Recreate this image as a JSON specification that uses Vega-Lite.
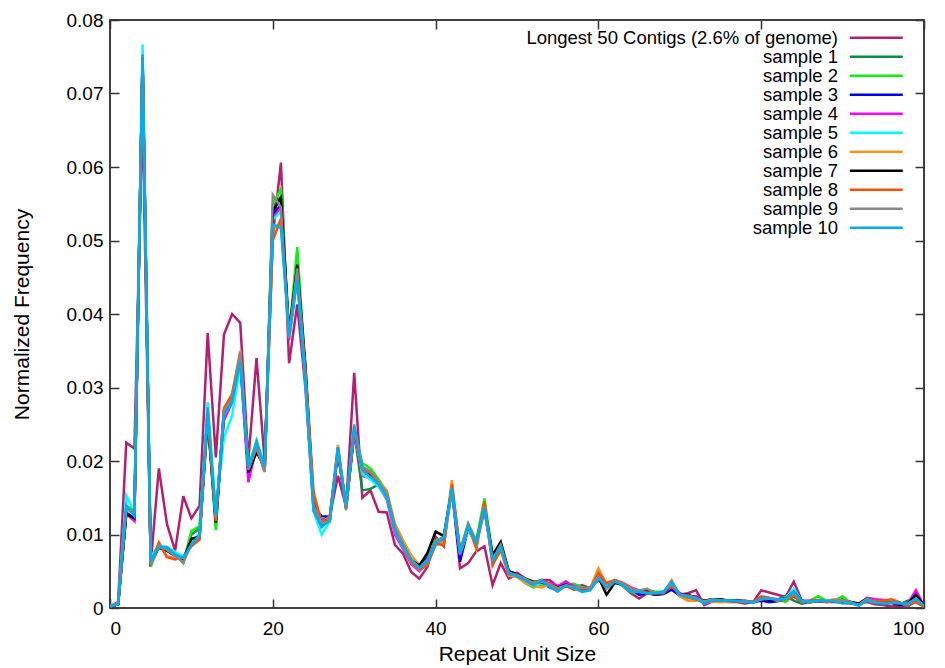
{
"$schema": "https://vega.github.io/schema/vega-lite/v6.json",
"autosize": "none",
"width": 814,
"height": 588,
"padding": {"left": 110, "top": 20, "right": 21, "bottom": 60},
"background": "white",
"config": {"font": "Liberation Sans", "view": {"stroke": "black", "strokeWidth": 1.5}},
"data": {"values": [
{"x":0,"L":0.0002,"s1":0.0002,"s2":0.0002,"s3":0.0002,"s4":0.0002,"s5":0.0002,"s6":0.0002,"s7":0.0002,"s8":0.0002,"s9":0.0003,"s10":0.0002},
{"x":1,"L":0.0008,"s1":0.0006,"s2":0.0006,"s3":0.0005,"s4":0.0005,"s5":0.0007,"s6":0.0006,"s7":0.0005,"s8":0.0006,"s9":0.0007,"s10":0.0005},
{"x":2,"L":0.0225,"s1":0.0135,"s2":0.0138,"s3":0.0130,"s4":0.0128,"s5":0.0153,"s6":0.0134,"s7":0.0128,"s8":0.0137,"s9":0.0136,"s10":0.0140},
{"x":3,"L":0.0217,"s1":0.0132,"s2":0.0135,"s3":0.0122,"s4":0.0118,"s5":0.0130,"s6":0.0128,"s7":0.0122,"s8":0.0130,"s9":0.0133,"s10":0.0125},
{"x":4,"L":0.0680,"s1":0.0748,"s2":0.0745,"s3":0.0750,"s4":0.0752,"s5":0.0767,"s6":0.0742,"s7":0.0749,"s8":0.0747,"s9":0.0746,"s10":0.0753},
{"x":5,"L":0.0060,"s1":0.0058,"s2":0.0056,"s3":0.0063,"s4":0.0064,"s5":0.0070,"s6":0.0060,"s7":0.0062,"s8":0.0059,"s9":0.0058,"s10":0.0066},
{"x":6,"L":0.0190,"s1":0.0086,"s2":0.0084,"s3":0.0083,"s4":0.0085,"s5":0.0085,"s6":0.0088,"s7":0.0082,"s8":0.0089,"s9":0.0085,"s10":0.0082},
{"x":7,"L":0.0114,"s1":0.0080,"s2":0.0080,"s3":0.0078,"s4":0.0079,"s5":0.0083,"s6":0.0070,"s7":0.0078,"s8":0.0069,"s9":0.0079,"s10":0.0083},
{"x":8,"L":0.0078,"s1":0.0072,"s2":0.0073,"s3":0.0071,"s4":0.0070,"s5":0.0076,"s6":0.0068,"s7":0.0072,"s8":0.0066,"s9":0.0071,"s10":0.0073},
{"x":9,"L":0.0152,"s1":0.0062,"s2":0.0061,"s3":0.0064,"s4":0.0063,"s5":0.0070,"s6":0.0068,"s7":0.0066,"s8":0.0069,"s9":0.0062,"s10":0.0068},
{"x":10,"L":0.0122,"s1":0.0100,"s2":0.0105,"s3":0.0090,"s4":0.0088,"s5":0.0090,"s6":0.0085,"s7":0.0094,"s8":0.0084,"s9":0.0087,"s10":0.0086},
{"x":11,"L":0.0139,"s1":0.0108,"s2":0.0111,"s3":0.0098,"s4":0.0095,"s5":0.0102,"s6":0.0100,"s7":0.0097,"s8":0.0093,"s9":0.0099,"s10":0.0099},
{"x":12,"L":0.0374,"s1":0.0262,"s2":0.0265,"s3":0.0268,"s4":0.0270,"s5":0.0280,"s6":0.0260,"s7":0.0255,"s8":0.0262,"s9":0.0266,"s10":0.0273},
{"x":13,"L":0.0205,"s1":0.0110,"s2":0.0106,"s3":0.0118,"s4":0.0120,"s5":0.0130,"s6":0.0120,"s7":0.0116,"s8":0.0118,"s9":0.0122,"s10":0.0127},
{"x":14,"L":0.0372,"s1":0.0268,"s2":0.0270,"s3":0.0262,"s4":0.0255,"s5":0.0232,"s6":0.0270,"s7":0.0265,"s8":0.0272,"s9":0.0268,"s10":0.0262},
{"x":15,"L":0.0400,"s1":0.0285,"s2":0.0288,"s3":0.0282,"s4":0.0280,"s5":0.0262,"s6":0.0292,"s7":0.0284,"s8":0.0290,"s9":0.0284,"s10":0.0280},
{"x":16,"L":0.0388,"s1":0.0340,"s2":0.0342,"s3":0.0336,"s4":0.0335,"s5":0.0330,"s6":0.0350,"s7":0.0342,"s8":0.0345,"s9":0.0348,"s10":0.0335},
{"x":17,"L":0.0201,"s1":0.0188,"s2":0.0190,"s3":0.0185,"s4":0.0171,"s5":0.0190,"s6":0.0186,"s7":0.0184,"s8":0.0188,"s9":0.0188,"s10":0.0190},
{"x":18,"L":0.0340,"s1":0.0225,"s2":0.0228,"s3":0.0222,"s4":0.0220,"s5":0.0225,"s6":0.0222,"s7":0.0212,"s8":0.0218,"s9":0.0220,"s10":0.0226},
{"x":19,"L":0.0200,"s1":0.0190,"s2":0.0192,"s3":0.0188,"s4":0.0186,"s5":0.0190,"s6":0.0187,"s7":0.0192,"s8":0.0186,"s9":0.0185,"s10":0.0193},
{"x":20,"L":0.0506,"s1":0.0545,"s2":0.0550,"s3":0.0535,"s4":0.0530,"s5":0.0528,"s6":0.0515,"s7":0.0540,"s8":0.0500,"s9":0.0562,"s10":0.0522},
{"x":21,"L":0.0606,"s1":0.0560,"s2":0.0570,"s3":0.0548,"s4":0.0545,"s5":0.0540,"s6":0.0525,"s7":0.0558,"s8":0.0530,"s9":0.0545,"s10":0.0517},
{"x":22,"L":0.0333,"s1":0.0372,"s2":0.0370,"s3":0.0368,"s4":0.0365,"s5":0.0368,"s6":0.0372,"s7":0.0375,"s8":0.0370,"s9":0.0368,"s10":0.0370},
{"x":23,"L":0.0413,"s1":0.0468,"s2":0.0491,"s3":0.0455,"s4":0.0452,"s5":0.0450,"s6":0.0460,"s7":0.0467,"s8":0.0455,"s9":0.0462,"s10":0.0446},
{"x":24,"L":0.0300,"s1":0.0320,"s2":0.0325,"s3":0.0315,"s4":0.0312,"s5":0.0310,"s6":0.0330,"s7":0.0330,"s8":0.0322,"s9":0.0318,"s10":0.0310},
{"x":25,"L":0.0135,"s1":0.0140,"s2":0.0142,"s3":0.0138,"s4":0.0135,"s5":0.0132,"s6":0.0160,"s7":0.0145,"s8":0.0155,"s9":0.0140,"s10":0.0132},
{"x":26,"L":0.0118,"s1":0.0120,"s2":0.0118,"s3":0.0125,"s4":0.0120,"s5":0.0100,"s6":0.0115,"s7":0.0112,"s8":0.0115,"s9":0.0115,"s10":0.0110},
{"x":27,"L":0.0125,"s1":0.0122,"s2":0.0120,"s3":0.0124,"s4":0.0118,"s5":0.0118,"s6":0.0125,"s7":0.0120,"s8":0.0123,"s9":0.0118,"s10":0.0120},
{"x":28,"L":0.0180,"s1":0.0215,"s2":0.0218,"s3":0.0212,"s4":0.0210,"s5":0.0215,"s6":0.0222,"s7":0.0214,"s8":0.0218,"s9":0.0216,"s10":0.0219},
{"x":29,"L":0.0138,"s1":0.0138,"s2":0.0136,"s3":0.0140,"s4":0.0136,"s5":0.0142,"s6":0.0135,"s7":0.0136,"s8":0.0138,"s9":0.0133,"s10":0.0140},
{"x":30,"L":0.0320,"s1":0.0240,"s2":0.0242,"s3":0.0238,"s4":0.0236,"s5":0.0244,"s6":0.0240,"s7":0.0242,"s8":0.0240,"s9":0.0250,"s10":0.0247},
{"x":31,"L":0.0150,"s1":0.0160,"s2":0.0197,"s3":0.0185,"s4":0.0180,"s5":0.0182,"s6":0.0185,"s7":0.0190,"s8":0.0188,"s9":0.0192,"s10":0.0188},
{"x":32,"L":0.0160,"s1":0.0162,"s2":0.0190,"s3":0.0180,"s4":0.0176,"s5":0.0175,"s6":0.0182,"s7":0.0182,"s8":0.0184,"s9":0.0186,"s10":0.0178},
{"x":33,"L":0.0131,"s1":0.0168,"s2":0.0175,"s3":0.0170,"s4":0.0166,"s5":0.0165,"s6":0.0172,"s7":0.0170,"s8":0.0168,"s9":0.0172,"s10":0.0168},
{"x":34,"L":0.0130,"s1":0.0155,"s2":0.0158,"s3":0.0152,"s4":0.0148,"s5":0.0150,"s6":0.0160,"s7":0.0154,"s8":0.0152,"s9":0.0156,"s10":0.0151},
{"x":35,"L":0.0086,"s1":0.0108,"s2":0.0110,"s3":0.0106,"s4":0.0100,"s5":0.0104,"s6":0.0115,"s7":0.0108,"s8":0.0105,"s9":0.0110,"s10":0.0106},
{"x":36,"L":0.0074,"s1":0.0085,"s2":0.0088,"s3":0.0084,"s4":0.0080,"s5":0.0082,"s6":0.0092,"s7":0.0086,"s8":0.0083,"s9":0.0087,"s10":0.0083},
{"x":37,"L":0.0049,"s1":0.0066,"s2":0.0068,"s3":0.0064,"s4":0.0060,"s5":0.0062,"s6":0.0072,"s7":0.0065,"s8":0.0062,"s9":0.0066,"s10":0.0065},
{"x":38,"L":0.0040,"s1":0.0056,"s2":0.0058,"s3":0.0056,"s4":0.0050,"s5":0.0052,"s6":0.0058,"s7":0.0058,"s8":0.0052,"s9":0.0055,"s10":0.0054},
{"x":39,"L":0.0056,"s1":0.0068,"s2":0.0065,"s3":0.0068,"s4":0.0062,"s5":0.0060,"s6":0.0060,"s7":0.0075,"s8":0.0058,"s9":0.0066,"s10":0.0063},
{"x":40,"L":0.0097,"s1":0.0090,"s2":0.0092,"s3":0.0090,"s4":0.0088,"s5":0.0085,"s6":0.0086,"s7":0.0104,"s8":0.0088,"s9":0.0092,"s10":0.0088},
{"x":41,"L":0.0084,"s1":0.0095,"s2":0.0096,"s3":0.0094,"s4":0.0092,"s5":0.0090,"s6":0.0090,"s7":0.0098,"s8":0.0085,"s9":0.0096,"s10":0.0095},
{"x":42,"L":0.0163,"s1":0.0160,"s2":0.0165,"s3":0.0162,"s4":0.0160,"s5":0.0158,"s6":0.0174,"s7":0.0162,"s8":0.0168,"s9":0.0160,"s10":0.0163},
{"x":43,"L":0.0054,"s1":0.0075,"s2":0.0078,"s3":0.0063,"s4":0.0072,"s5":0.0074,"s6":0.0078,"s7":0.0076,"s8":0.0077,"s9":0.0076,"s10":0.0074},
{"x":44,"L":0.0061,"s1":0.0110,"s2":0.0114,"s3":0.0108,"s4":0.0108,"s5":0.0106,"s6":0.0112,"s7":0.0110,"s8":0.0112,"s9":0.0115,"s10":0.0111},
{"x":45,"L":0.0077,"s1":0.0090,"s2":0.0092,"s3":0.0088,"s4":0.0086,"s5":0.0087,"s6":0.0080,"s7":0.0089,"s8":0.0082,"s9":0.0090,"s10":0.0088},
{"x":46,"L":0.0084,"s1":0.0142,"s2":0.0149,"s3":0.0135,"s4":0.0133,"s5":0.0136,"s6":0.0140,"s7":0.0138,"s8":0.0145,"s9":0.0138,"s10":0.0136},
{"x":47,"L":0.0031,"s1":0.0070,"s2":0.0072,"s3":0.0066,"s4":0.0064,"s5":0.0068,"s6":0.0060,"s7":0.0072,"s8":0.0058,"s9":0.0066,"s10":0.0065},
{"x":48,"L":0.0061,"s1":0.0086,"s2":0.0088,"s3":0.0082,"s4":0.0080,"s5":0.0084,"s6":0.0078,"s7":0.0090,"s8":0.0080,"s9":0.0086,"s10":0.0083},
{"x":49,"L":0.0040,"s1":0.0048,"s2":0.0050,"s3":0.0046,"s4":0.0044,"s5":0.0047,"s6":0.0044,"s7":0.0050,"s8":0.0046,"s9":0.0048,"s10":0.0047},
{"x":50,"L":0.0046,"s1":0.0044,"s2":0.0046,"s3":0.0045,"s4":0.0048,"s5":0.0044,"s6":0.0042,"s7":0.0046,"s8":0.0045,"s9":0.0045,"s10":0.0043},
{"x":51,"L":0.0040,"s1":0.0036,"s2":0.0034,"s3":0.0036,"s4":0.0040,"s5":0.0037,"s6":0.0034,"s7":0.0040,"s8":0.0038,"s9":0.0040,"s10":0.0038},
{"x":52,"L":0.0034,"s1":0.0032,"s2":0.0028,"s3":0.0032,"s4":0.0034,"s5":0.0030,"s6":0.0030,"s7":0.0036,"s8":0.0035,"s9":0.0034,"s10":0.0031},
{"x":53,"L":0.0038,"s1":0.0034,"s2":0.0030,"s3":0.0036,"s4":0.0036,"s5":0.0035,"s6":0.0028,"s7":0.0035,"s8":0.0037,"s9":0.0036,"s10":0.0038},
{"x":54,"L":0.0038,"s1":0.0030,"s2":0.0031,"s3":0.0028,"s4":0.0034,"s5":0.0030,"s6":0.0032,"s7":0.0032,"s8":0.0033,"s9":0.0032,"s10":0.0029},
{"x":55,"L":0.0029,"s1":0.0026,"s2":0.0028,"s3":0.0024,"s4":0.0030,"s5":0.0025,"s6":0.0025,"s7":0.0028,"s8":0.0026,"s9":0.0027,"s10":0.0022},
{"x":56,"L":0.0036,"s1":0.0030,"s2":0.0032,"s3":0.0030,"s4":0.0035,"s5":0.0031,"s6":0.0030,"s7":0.0032,"s8":0.0030,"s9":0.0031,"s10":0.0031},
{"x":57,"L":0.0029,"s1":0.0028,"s2":0.0033,"s3":0.0028,"s4":0.0030,"s5":0.0027,"s6":0.0026,"s7":0.0028,"s8":0.0025,"s9":0.0029,"s10":0.0027},
{"x":58,"L":0.0031,"s1":0.0026,"s2":0.0028,"s3":0.0025,"s4":0.0026,"s5":0.0024,"s6":0.0025,"s7":0.0026,"s8":0.0027,"s9":0.0027,"s10":0.0022},
{"x":59,"L":0.0027,"s1":0.0026,"s2":0.0026,"s3":0.0026,"s4":0.0028,"s5":0.0025,"s6":0.0027,"s7":0.0026,"s8":0.0026,"s9":0.0028,"s10":0.0024},
{"x":60,"L":0.0038,"s1":0.0042,"s2":0.0040,"s3":0.0044,"s4":0.0042,"s5":0.0040,"s6":0.0054,"s7":0.0042,"s8":0.0048,"s9":0.0043,"s10":0.0040},
{"x":61,"L":0.0030,"s1":0.0030,"s2":0.0032,"s3":0.0030,"s4":0.0030,"s5":0.0030,"s6":0.0032,"s7":0.0018,"s8":0.0034,"s9":0.0026,"s10":0.0029},
{"x":62,"L":0.0036,"s1":0.0036,"s2":0.0036,"s3":0.0037,"s4":0.0038,"s5":0.0036,"s6":0.0038,"s7":0.0034,"s8":0.0038,"s9":0.0036,"s10":0.0036},
{"x":63,"L":0.0030,"s1":0.0032,"s2":0.0030,"s3":0.0032,"s4":0.0034,"s5":0.0032,"s6":0.0033,"s7":0.0032,"s8":0.0034,"s9":0.0033,"s10":0.0031},
{"x":64,"L":0.0020,"s1":0.0026,"s2":0.0022,"s3":0.0026,"s4":0.0028,"s5":0.0026,"s6":0.0025,"s7":0.0026,"s8":0.0027,"s9":0.0026,"s10":0.0022},
{"x":65,"L":0.0013,"s1":0.0022,"s2":0.0018,"s3":0.0018,"s4":0.0024,"s5":0.0022,"s6":0.0022,"s7":0.0022,"s8":0.0022,"s9":0.0024,"s10":0.0022},
{"x":66,"L":0.0020,"s1":0.0022,"s2":0.0024,"s3":0.0020,"s4":0.0023,"s5":0.0021,"s6":0.0020,"s7":0.0024,"s8":0.0021,"s9":0.0026,"s10":0.0020},
{"x":67,"L":0.0018,"s1":0.0020,"s2":0.0022,"s3":0.0018,"s4":0.0018,"s5":0.0020,"s6":0.0019,"s7":0.0018,"s8":0.0020,"s9":0.0020,"s10":0.0020},
{"x":68,"L":0.0020,"s1":0.0020,"s2":0.0022,"s3":0.0019,"s4":0.0020,"s5":0.0022,"s6":0.0021,"s7":0.0020,"s8":0.0022,"s9":0.0020,"s10":0.0022},
{"x":69,"L":0.0034,"s1":0.0030,"s2":0.0026,"s3":0.0025,"s4":0.0030,"s5":0.0034,"s6":0.0038,"s7":0.0032,"s8":0.0030,"s9":0.0034,"s10":0.0036},
{"x":70,"L":0.0018,"s1":0.0016,"s2":0.0018,"s3":0.0017,"s4":0.0020,"s5":0.0016,"s6":0.0016,"s7":0.0018,"s8":0.0018,"s9":0.0018,"s10":0.0018},
{"x":71,"L":0.0020,"s1":0.0015,"s2":0.0016,"s3":0.0016,"s4":0.0016,"s5":0.0015,"s6":0.0010,"s7":0.0018,"s8":0.0014,"s9":0.0017,"s10":0.0015},
{"x":72,"L":0.0024,"s1":0.0012,"s2":0.0014,"s3":0.0013,"s4":0.0016,"s5":0.0013,"s6":0.0010,"s7":0.0014,"s8":0.0012,"s9":0.0014,"s10":0.0013},
{"x":73,"L":0.0004,"s1":0.0008,"s2":0.0010,"s3":0.0009,"s4":0.0006,"s5":0.0008,"s6":0.0010,"s7":0.0010,"s8":0.0008,"s9":0.0009,"s10":0.0006},
{"x":74,"L":0.0009,"s1":0.0010,"s2":0.0012,"s3":0.0011,"s4":0.0009,"s5":0.0010,"s6":0.0009,"s7":0.0012,"s8":0.0010,"s9":0.0012,"s10":0.0011},
{"x":75,"L":0.0009,"s1":0.0010,"s2":0.0011,"s3":0.0010,"s4":0.0012,"s5":0.0010,"s6":0.0008,"s7":0.0012,"s8":0.0010,"s9":0.0011,"s10":0.0010},
{"x":76,"L":0.0008,"s1":0.0010,"s2":0.0010,"s3":0.0010,"s4":0.0010,"s5":0.0011,"s6":0.0009,"s7":0.0010,"s8":0.0010,"s9":0.0010,"s10":0.0010},
{"x":77,"L":0.0008,"s1":0.0010,"s2":0.0009,"s3":0.0009,"s4":0.0010,"s5":0.0010,"s6":0.0010,"s7":0.0011,"s8":0.0009,"s9":0.0010,"s10":0.0010},
{"x":78,"L":0.0006,"s1":0.0009,"s2":0.0010,"s3":0.0008,"s4":0.0010,"s5":0.0009,"s6":0.0008,"s7":0.0009,"s8":0.0010,"s9":0.0009,"s10":0.0009},
{"x":79,"L":0.0008,"s1":0.0008,"s2":0.0008,"s3":0.0008,"s4":0.0007,"s5":0.0008,"s6":0.0009,"s7":0.0008,"s8":0.0008,"s9":0.0008,"s10":0.0007},
{"x":80,"L":0.0024,"s1":0.0011,"s2":0.0012,"s3":0.0010,"s4":0.0012,"s5":0.0013,"s6":0.0012,"s7":0.0014,"s8":0.0016,"s9":0.0012,"s10":0.0013},
{"x":81,"L":0.0021,"s1":0.0012,"s2":0.0010,"s3":0.0008,"s4":0.0013,"s5":0.0012,"s6":0.0013,"s7":0.0011,"s8":0.0014,"s9":0.0013,"s10":0.0013},
{"x":82,"L":0.0018,"s1":0.0011,"s2":0.0012,"s3":0.0009,"s4":0.0012,"s5":0.0012,"s6":0.0010,"s7":0.0012,"s8":0.0011,"s9":0.0012,"s10":0.0011},
{"x":83,"L":0.0015,"s1":0.0016,"s2":0.0008,"s3":0.0012,"s4":0.0013,"s5":0.0014,"s6":0.0012,"s7":0.0013,"s8":0.0012,"s9":0.0012,"s10":0.0013},
{"x":84,"L":0.0036,"s1":0.0010,"s2":0.0018,"s3":0.0016,"s4":0.0020,"s5":0.0026,"s6":0.0018,"s7":0.0022,"s8":0.0016,"s9":0.0020,"s10":0.0022},
{"x":85,"L":0.0010,"s1":0.0006,"s2":0.0009,"s3":0.0008,"s4":0.0010,"s5":0.0010,"s6":0.0008,"s7":0.0010,"s8":0.0008,"s9":0.0010,"s10":0.0009},
{"x":86,"L":0.0009,"s1":0.0008,"s2":0.0010,"s3":0.0009,"s4":0.0010,"s5":0.0009,"s6":0.0009,"s7":0.0008,"s8":0.0010,"s9":0.0008,"s10":0.0009},
{"x":87,"L":0.0009,"s1":0.0009,"s2":0.0016,"s3":0.0010,"s4":0.0010,"s5":0.0010,"s6":0.0010,"s7":0.0010,"s8":0.0011,"s9":0.0010,"s10":0.0010},
{"x":88,"L":0.0008,"s1":0.0009,"s2":0.0010,"s3":0.0010,"s4":0.0009,"s5":0.0010,"s6":0.0010,"s7":0.0009,"s8":0.0008,"s9":0.0009,"s10":0.0010},
{"x":89,"L":0.0008,"s1":0.0010,"s2":0.0010,"s3":0.0009,"s4":0.0010,"s5":0.0010,"s6":0.0012,"s7":0.0010,"s8":0.0010,"s9":0.0011,"s10":0.0009},
{"x":90,"L":0.0007,"s1":0.0012,"s2":0.0016,"s3":0.0008,"s4":0.0010,"s5":0.0008,"s6":0.0010,"s7":0.0008,"s8":0.0010,"s9":0.0010,"s10":0.0006},
{"x":91,"L":0.0006,"s1":0.0007,"s2":0.0007,"s3":0.0008,"s4":0.0008,"s5":0.0008,"s6":0.0008,"s7":0.0008,"s8":0.0007,"s9":0.0008,"s10":0.0007},
{"x":92,"L":0.0006,"s1":0.0004,"s2":0.0005,"s3":0.0004,"s4":0.0005,"s5":0.0004,"s6":0.0005,"s7":0.0006,"s8":0.0004,"s9":0.0004,"s10":0.0003},
{"x":93,"L":0.0008,"s1":0.0012,"s2":0.0010,"s3":0.0012,"s4":0.0014,"s5":0.0012,"s6":0.0010,"s7":0.0013,"s8":0.0010,"s9":0.0013,"s10":0.0011},
{"x":94,"L":0.0005,"s1":0.0007,"s2":0.0008,"s3":0.0008,"s4":0.0012,"s5":0.0008,"s6":0.0007,"s7":0.0008,"s8":0.0010,"s9":0.0008,"s10":0.0007},
{"x":95,"L":0.0004,"s1":0.0006,"s2":0.0007,"s3":0.0006,"s4":0.0011,"s5":0.0007,"s6":0.0007,"s7":0.0007,"s8":0.0010,"s9":0.0006,"s10":0.0006},
{"x":96,"L":0.0002,"s1":0.0008,"s2":0.0008,"s3":0.0007,"s4":0.0008,"s5":0.0007,"s6":0.0010,"s7":0.0007,"s8":0.0012,"s9":0.0007,"s10":0.0007},
{"x":97,"L":0.0003,"s1":0.0005,"s2":0.0006,"s3":0.0004,"s4":0.0006,"s5":0.0006,"s6":0.0006,"s7":0.0005,"s8":0.0008,"s9":0.0006,"s10":0.0007},
{"x":98,"L":0.0002,"s1":0.0010,"s2":0.0006,"s3":0.0005,"s4":0.0006,"s5":0.0004,"s6":0.0005,"s7":0.0006,"s8":0.0004,"s9":0.0006,"s10":0.0005},
{"x":99,"L":0.0010,"s1":0.0012,"s2":0.0010,"s3":0.0012,"s4":0.0024,"s5":0.0016,"s6":0.0008,"s7":0.0018,"s8":0.0008,"s9":0.0012,"s10":0.0013},
{"x":100,"L":0.0002,"s1":0.0003,"s2":0.0004,"s3":0.0002,"s4":0.0003,"s5":0.0003,"s6":0.0002,"s7":0.0004,"s8":0.0002,"s9":0.0003,"s10":0.0003}
]},
"transform": [{"fold": ["L","s1","s2","s3","s4","s5","s6","s7","s8","s9","s10"], "as": ["series","freq"]}],
"layer": [
{
"mark": {"type": "line", "strokeWidth": 2.5, "clip": true},
"encoding": {
"x": {"field": "x", "type": "quantitative", "scale": {"domain": [0,100], "nice": false},
 "axis": {"orient": "bottom", "values": [0,20,40,60,80,100], "domain": false, "grid": false, "tickSize": -9, "tickColor": "#333", "tickWidth": 1.5, "labelFontSize": 19, "labelColor": "black", "labelPadding": 20, "title": "Repeat Unit Size", "titleFontSize": 21, "titleFontWeight": "normal", "titleColor": "black", "titlePadding": 5}},
"y": {"field": "freq", "type": "quantitative", "scale": {"domain": [0,0.08], "nice": false},
 "axis": {"orient": "left", "values": [0,0.01,0.02,0.03,0.04,0.05,0.06,0.07,0.08], "labelExpr": "datum.value == 0 ? '0' : format(datum.value, '.2f')", "domain": false, "grid": false, "tickSize": -9, "tickColor": "#333", "tickWidth": 1.5, "labelFontSize": 19, "labelColor": "black", "labelPadding": 16, "title": "Normalized Frequency", "titleFontSize": 21, "titleFontWeight": "normal", "titleColor": "black", "titlePadding": 34}},
"color": {"field": "series", "type": "nominal",
 "scale": {"domain": ["L","s1","s2","s3","s4","s5","s6","s7","s8","s9","s10"], "range": ["#b3206e","#0b8c45","#11ee11","#0000ee","#ff00ff","#00ffff","#f7941d","#000000","#ff4d00","#888888","#00aeef"]},
 "legend": {"orient": "none", "legendX": 757, "legendY": 8.5, "title": null, "padding": 0, "symbolType": "M-5,0H5", "symbolSize": 112.36, "symbolStrokeWidth": 2.5, "labelAlign": "right", "labelOffset": -47.5, "labelFontSize": 18.5, "labelColor": "black", "rowPadding": -1.5, "labelLimit": 500,
 "labelExpr": "datum.label == 'L' ? 'Longest 50 Contigs (2.6% of genome)' : replace(datum.label, 's', 'sample ')"}}
}
},
{
"mark": {"type": "point", "opacity": 0},
"encoding": {
"x": {"field": "x", "type": "quantitative", "scale": {"domain": [0,100], "nice": false},
 "axis": {"orient": "top", "values": [0,20,40,60,80,100], "domain": false, "grid": false, "tickSize": -9, "tickColor": "#333", "tickWidth": 1.5, "labels": false, "title": null}},
"y": {"field": "freq", "type": "quantitative", "scale": {"domain": [0,0.08], "nice": false},
 "axis": {"orient": "right", "values": [0,0.01,0.02,0.03,0.04,0.05,0.06,0.07,0.08], "domain": false, "grid": false, "tickSize": -9, "tickColor": "#333", "tickWidth": 1.5, "labels": false, "title": null}}
}
}
],
"resolve": {"axis": {"x": "independent", "y": "independent"}}
}
